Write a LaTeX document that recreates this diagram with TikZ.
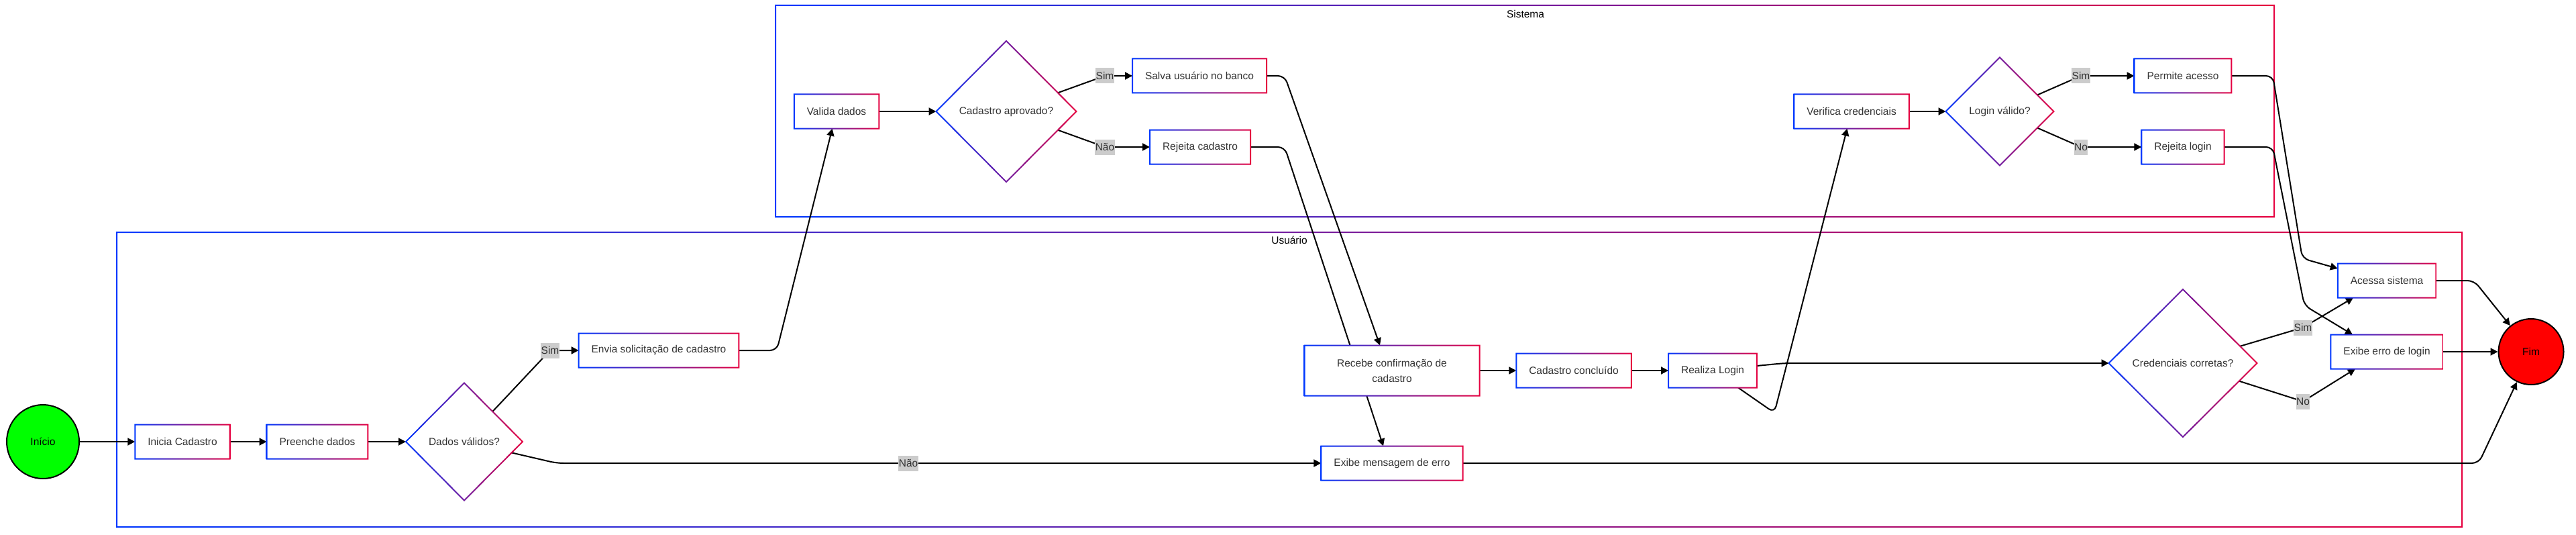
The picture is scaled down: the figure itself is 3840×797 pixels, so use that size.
\documentclass[tikz,border=0pt]{standalone}
\usepackage{fontspec}
\setmainfont{Liberation Sans}
\usetikzlibrary{shapes.geometric,arrows.meta,backgrounds}

\definecolor{edgeblue}{HTML}{0038FF}
\definecolor{edgered}{HTML}{E6003F}
\definecolor{txtgray}{HTML}{333333}
\definecolor{lblgray}{HTML}{CCCCCC}

\newcommand{\gradframe}[2]{%
  \path[left color=edgeblue, right color=edgered, even odd rule]
    ([shift={(-1pt,-1pt)}]#1) rectangle ([shift={(1pt,1pt)}]#2)
    ([shift={(1pt,1pt)}]#1) rectangle ([shift={(-1pt,-1pt)}]#2);}
\newcommand{\gradkite}[1]{%
  \path[left color=edgeblue, right color=edgered, even odd rule]
    ([yshift=1.4pt]#1.north) -- ([xshift=1.4pt]#1.east) -- ([yshift=-1.4pt]#1.south) -- ([xshift=-1.4pt]#1.west) -- cycle
    ([yshift=-1.4pt]#1.north) -- ([xshift=-1.4pt]#1.east) -- ([yshift=1.4pt]#1.south) -- ([xshift=1.4pt]#1.west) -- cycle;}

\begin{document}
\begin{tikzpicture}[x=1pt, y=1pt, font=\fontsize{15.5}{23}\selectfont,
    box/.style={rectangle, fill=white, text=txtgray, minimum height=51pt, inner xsep=19pt, inner ysep=0pt, outer sep=0pt},
    choice/.style={diamond, aspect=1, fill=white, text=txtgray, inner sep=0pt, outer sep=0pt},
    term/.style={ellipse, draw=black, line width=2pt, text=black, inner sep=0pt},
    lbl/.style={sharp corners, fill=lblgray, text=txtgray, inner xsep=0.5pt, inner ysep=0pt, minimum height=23pt},
    flow/.style={draw=black, line width=2pt, rounded corners=10pt, -{Triangle[length=11pt, width=11pt]}}]
  \useasboundingbox (0,0) rectangle (3840,-797);

  \coordinate (sysSW) at (1156,-323);
  \coordinate (sysNE) at (3390,-8);
  \coordinate (usrSW) at (174,-785);
  \coordinate (usrNE) at (3670,-346);
  \node (systitle) at (2274,-21) {Sistema};
  \node (usrtitle) at (1922,-358) {Usuário};

  \node[term, fill={rgb,255:red,0;green,255;blue,0}, minimum width=108pt, minimum height=110pt] (ini) at (64,-658) {Início};
  \node[box] (inicia) at (272,-658) {Inicia Cadastro};
  \node[box] (preenche) at (473,-658) {Preenche dados};
  \node[choice, minimum width=174pt, minimum height=175pt] (dval) at (692,-658) {Dados válidos?};
  \node[box] (envia) at (982,-522) {Envia solicitação de cadastro};
  \node[box] (valida) at (1247,-166) {Valida dados};
  \node[choice, minimum width=209pt, minimum height=210pt] (aprov) at (1500,-166) {Cadastro aprovado?};
  \node[box] (salva) at (1788,-113) {Salva usuário no banco};
  \node[box] (rejcad) at (1789,-219) {Rejeita cadastro};
  \node[box, align=center, minimum width=261pt, minimum height=75pt] (recebe) at (2075,-552) {Recebe confirmação de\\cadastro};
  \node[box] (concl) at (2346,-552) {Cadastro concluído};
  \node[box] (login) at (2553,-552) {Realiza Login};
  \node[box] (erro) at (2075,-690) {Exibe mensagem de erro};
  \node[box] (verif) at (2760,-166) {Verifica credenciais};
  \node[choice, minimum width=161pt, minimum height=161pt] (lval) at (2981,-166) {Login válido?};
  \node[box] (permite) at (3254,-113) {Permite acesso};
  \node[box] (rejlog) at (3254,-219) {Rejeita login};
  \node[choice, minimum width=221pt, minimum height=220pt] (cred) at (3254,-541) {Credenciais corretas?};
  \node[box] (acessa) at (3558,-418) {Acessa sistema};
  \node[box] (errolog) at (3558,-524) {Exibe erro de login};
  \node[term, fill={rgb,255:red,255;green,0;blue,0}, minimum width=97pt, minimum height=98pt] (fim) at (3773,-524) {Fim};

  \foreach \n in {inicia,preenche,envia,valida,salva,rejcad,recebe,concl,login,erro,verif,permite,rejlog,acessa,errolog}
    \gradframe{\n.south west}{\n.north east};
  \foreach \n in {dval,aprov,lval,cred}
    \gradkite{\n};

  \begin{scope}[on background layer]
    \gradframe{sysSW}{sysNE}
    \gradframe{usrSW}{usrNE}

    \draw[flow] (ini) -- (inicia);
    \draw[flow] (inicia) -- (preenche);
    \draw[flow] (preenche) -- (dval);
    \draw[flow] (dval) -- (820,-522) node[lbl] {Sim} -- (envia);
    \draw[flow] (dval) -- (830,-690) -- node[lbl, pos=0.46] {Não} (erro);
    \draw[flow] (envia) -- (1158,-522) -- (valida);
    \draw[flow] (valida) -- (aprov);
    \draw[flow] (aprov) -- (1647,-113) node[lbl] {Sim} -- (salva);
    \draw[flow] (aprov) -- (1647,-219) node[lbl] {Não} -- (rejcad);
    \draw[flow] (salva) -- (1915,-113) -- ([xshift=-18pt]recebe.north);
    \draw[flow] (rejcad) -- (1915,-219) -- ([xshift=-13pt]erro.north);
    \draw[flow] (recebe) -- (concl);
    \draw[flow] (concl) -- (login);
    \draw[flow] ([xshift=38pt]login.south) -- (2645,-615) -- (verif);
    \draw[flow] ([yshift=7pt]login.east) -- (2660,-541) -- (cred.west);
    \draw[flow] (erro) -- (3695,-690) -- (fim);
    \draw[flow] (verif) -- (lval);
    \draw[flow] (lval) -- (3102,-113) node[lbl] {Sim} -- (permite);
    \draw[flow] (lval) -- (3102,-219) node[lbl] {No} -- (rejlog);
    \draw[flow] (permite) -- (3388,-113) -- (3432,-385) -- ([yshift=18pt]acessa.west);
    \draw[flow] (rejlog) -- (3388,-219) -- (3435,-455) -- ([xshift=-51pt]errolog.north);
    \draw[flow] (cred) -- (3433,-488) node[lbl] {Sim} -- ([xshift=-50pt]acessa.south);
    \draw[flow] (cred) -- (3433,-598) node[lbl] {No} -- ([xshift=-47pt]errolog.south);
    \draw[flow] (acessa) -- (3688,-418) -- (fim);
    \draw[flow] (errolog) -- (fim);
  \end{scope}
\end{tikzpicture}
\end{document}
